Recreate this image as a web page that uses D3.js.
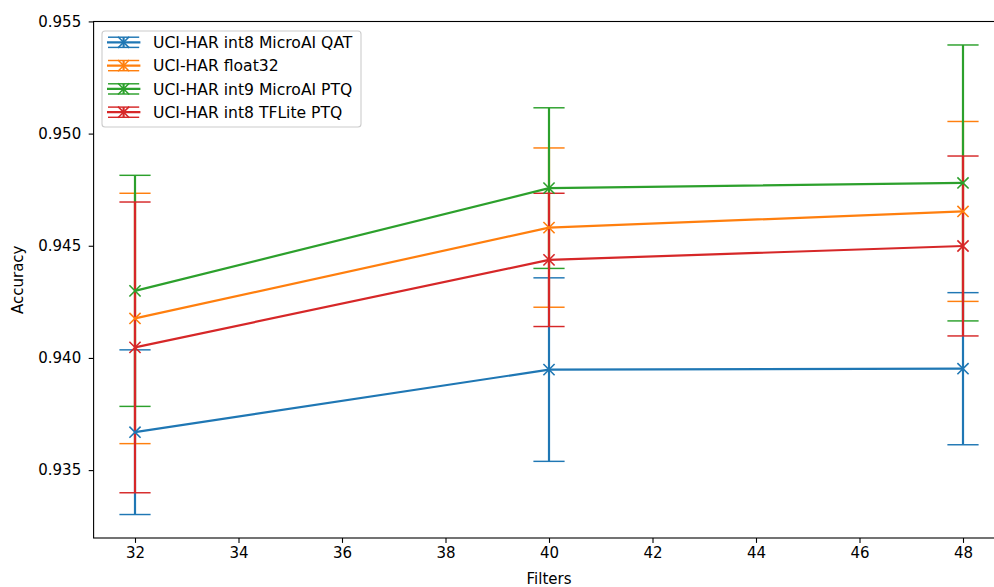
<!DOCTYPE html>
<html><head><meta charset="utf-8">
<script src="https://cdn.jsdelivr.net/npm/d3@7"></script>
<style>body{margin:0;background:#fff} svg{display:block} text{font-family:"DejaVu Sans",sans-serif;fill:#000}</style>
</head><body><svg id="c" width="994" height="587"></svg>
<script>
// ---- data ----
const filters = [32, 40, 48];
const seriesNames = ["UCI-HAR int8 MicroAI QAT", "UCI-HAR float32", "UCI-HAR int9 MicroAI PTQ", "UCI-HAR int8 TFLite PTQ"];
const qatMean = [0.93669, 0.93948, 0.93952];
const qatErr = [0.00367, 0.00409, 0.00339];
const float32Mean = [0.94176, 0.94581, 0.94653];
const float32Err = [0.00558, 0.00355, 0.00401];
const int9Mean = [0.94299, 0.94757, 0.94780];
const int9Err = [0.00515, 0.00358, 0.00615];
const tfliteMean = [0.94047, 0.94437, 0.94499];
const tfliteErr = [0.00648, 0.00297, 0.00401];
const xTicks = [32, 34, 36, 38, 40, 42, 44, 46, 48];
const yTicks = [0.935, 0.940, 0.945, 0.950, 0.955];
const colors = ["#1f77b4", "#ff7f0e", "#2ca02c", "#d62728"];

const series = [
  {name: seriesNames[0], mean: qatMean, err: qatErr, color: colors[0]},
  {name: seriesNames[1], mean: float32Mean, err: float32Err, color: colors[1]},
  {name: seriesNames[2], mean: int9Mean, err: int9Err, color: colors[2]},
  {name: seriesNames[3], mean: tfliteMean, err: tfliteErr, color: colors[3]}
];

// ---- layout ----
const L = 93.6, R = 1004.4, T = 21.5, B = 538;
const FS = 15.0, LFS = 15.6;
const svg = d3.select("#c");

const xMin = d3.min(filters), xMax = d3.max(filters);
const xPad = (xMax - xMin) * 0.05;
const x = d3.scaleLinear().domain([xMin - xPad, xMax + xPad]).range([L, R]);

const lows = [], highs = [];
series.forEach(s => s.mean.forEach((m, i) => { lows.push(m - s.err[i]); highs.push(m + s.err[i]); }));
const yMin = d3.min(lows), yMax = d3.max(highs);
const yPad = (yMax - yMin) * 0.05;
const y = d3.scaleLinear().domain([yMin - yPad, yMax + yPad]).range([B, T]);

// ---- axes ----
const xAxis = svg.append("g").attr("transform", `translate(0,${B})`)
  .call(d3.axisBottom(x).tickValues(xTicks).tickFormat(d3.format("d")).tickSizeOuter(0).tickSize(4.9).tickPadding(4.5));
const yAxis = svg.append("g").attr("transform", `translate(${L},0)`)
  .call(d3.axisLeft(y).tickValues(yTicks).tickFormat(d3.format(".3f")).tickSizeOuter(0).tickSize(4.9).tickPadding(7.5));
[xAxis, yAxis].forEach(g => {
  g.select(".domain").remove();
  g.selectAll(".tick line").attr("stroke", "#000").attr("stroke-width", 1.1);
  g.selectAll(".tick text").attr("font-size", FS).attr("font-family", "DejaVu Sans").attr("fill", "#000");
});

// spines
const sp = svg.append("g").attr("stroke", "#000").attr("stroke-width", 1.1).attr("fill", "none");
sp.append("rect").attr("x", L).attr("y", T).attr("width", R - L).attr("height", B - T);

// ---- error bars (drawn under data lines) ----
const capHalf = 15.6;
const eb = svg.append("g");
series.forEach(s => {
  filters.forEach((f, i) => {
    const cx = x(f), y0 = y(s.mean[i] - s.err[i]), y1 = y(s.mean[i] + s.err[i]);
    eb.append("line").attr("x1", cx).attr("x2", cx).attr("y1", y0).attr("y2", y1)
      .attr("stroke", s.color).attr("stroke-width", 2.2);
    [y0, y1].forEach(cy => eb.append("line").attr("x1", cx - capHalf).attr("x2", cx + capHalf)
      .attr("y1", cy).attr("y2", cy).attr("stroke", s.color).attr("stroke-width", 1.45));
  });
});

// ---- data lines + markers ----
const line = d3.line().x(d => x(d[0])).y(d => y(d[1]));
const mk = 5.6;
function xMarker(g, cx, cy, color) {
  g.append("path").attr("d", `M${cx - mk},${cy - mk}L${cx + mk},${cy + mk}M${cx - mk},${cy + mk}L${cx + mk},${cy - mk}`)
    .attr("stroke", color).attr("stroke-width", 1.6).attr("fill", "none");
}
const dl = svg.append("g");
series.forEach(s => {
  const pts = filters.map((f, i) => [f, s.mean[i]]);
  dl.append("path").datum(pts).attr("d", line).attr("fill", "none")
    .attr("stroke", s.color).attr("stroke-width", 2.2).attr("stroke-linejoin", "round");
  pts.forEach(p => xMarker(dl, x(p[0]), y(p[1]), s.color));
});

// ---- legend ----
const lg = svg.append("g");
lg.append("rect").attr("x", 102).attr("y", 31).attr("width", 259).attr("height", 96).attr("rx", 3)
  .attr("fill", "#fff").attr("fill-opacity", 0.8).attr("stroke", "#cccccc").attr("stroke-width", 1.1);
const rowY = [42.3, 65.6, 88.9, 112.2];
series.forEach((s, i) => {
  const cy = rowY[i], hx = 123.6;
  lg.append("line").attr("x1", 107).attr("x2", 140.4).attr("y1", cy).attr("y2", cy)
    .attr("stroke", s.color).attr("stroke-width", 2.2);
  lg.append("line").attr("x1", hx).attr("x2", hx).attr("y1", cy - 5.1).attr("y2", cy + 5.1)
    .attr("stroke", s.color).attr("stroke-width", 2.2);
  [cy - 5.1, cy + 5.1].forEach(yy => lg.append("line").attr("x1", hx - capHalf).attr("x2", hx + capHalf)
    .attr("y1", yy).attr("y2", yy).attr("stroke", s.color).attr("stroke-width", 1.45));
  xMarker(lg, hx, cy, s.color);
  lg.append("text").attr("x", 153).attr("y", cy).attr("dy", "0.36em").attr("font-size", LFS).text(s.name);
});

// ---- axis labels ----
svg.append("text").attr("x", (L + R) / 2).attr("y", 584).attr("text-anchor", "middle").attr("font-size", FS).text("Filters");
svg.append("text").attr("transform", `translate(23,${(T + B) / 2}) rotate(-90)`).attr("text-anchor", "middle")
  .attr("font-size", FS).text("Accuracy");
</script></body></html>
